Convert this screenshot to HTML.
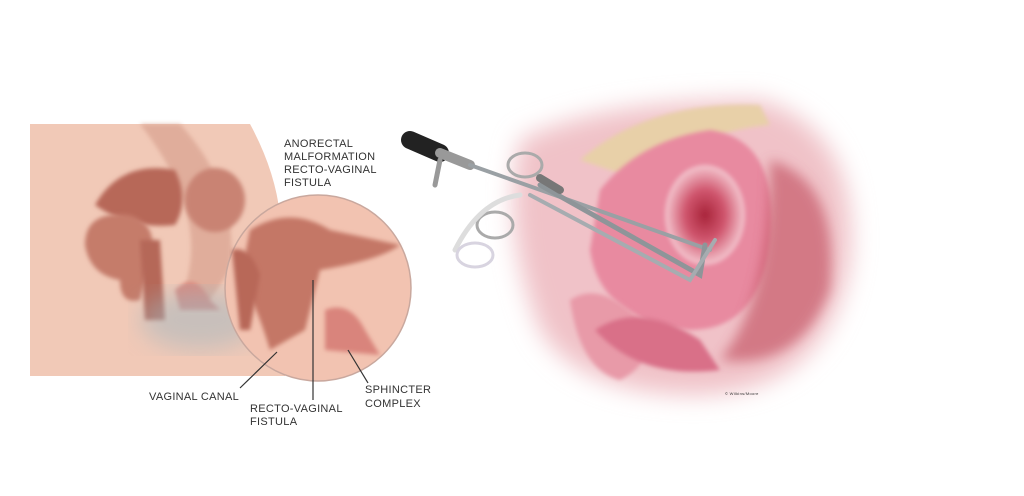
<!DOCTYPE html>
<html><head><meta charset="utf-8"><style>
html,body{margin:0;padding:0;background:#fff;}
svg{display:block;}
text{font-family:"Liberation Sans",sans-serif;font-size:11px;fill:#333;letter-spacing:0.3px;}
</style></head><body>
<svg width="1024" height="496" viewBox="0 0 1024 496" xmlns="http://www.w3.org/2000/svg">
<defs>
<filter id="b2"><feGaussianBlur stdDeviation="2"/></filter>
<filter id="b6"><feGaussianBlur stdDeviation="6"/></filter>
<filter id="b12"><feGaussianBlur stdDeviation="12"/></filter>
<radialGradient id="rg" cx="0.5" cy="0.5" r="0.5"><stop offset="0" stop-color="#a8243a"/><stop offset="0.5" stop-color="#d0566e"/><stop offset="1" stop-color="#f4c6cf"/></radialGradient>
</defs>
<!-- LEFT PANEL body -->
<path d="M30,124 L250,124 Q275,170 280,215 L285,376 L30,376 Z" fill="#f1c9b7"/>
<path d="M140,124 L180,124 Q240,190 230,270 L210,300 L180,300 Q215,220 140,124Z" fill="#d9a290" opacity="0.7" filter="url(#b2)"/>
<ellipse cx="215" cy="200" rx="30" ry="32" fill="#c98373" filter="url(#b2)"/>
<path d="M95,205 Q120,160 175,170 Q190,200 175,225 Q130,230 95,205Z" fill="#b76758" filter="url(#b2)"/>
<path d="M85,245 Q85,210 130,215 Q160,225 150,260 L140,300 Q120,305 120,280 Q90,275 85,245Z" fill="#c57b6b" filter="url(#b2)"/>
<path d="M140,240 L160,240 L165,320 L145,320Z" fill="#b56858" filter="url(#b2)"/>
<path d="M175,290 Q195,270 210,300 L220,310 L180,310Z" fill="#d98a80" filter="url(#b2)"/>
<ellipse cx="200" cy="320" rx="60" ry="30" fill="#9fb6bf" opacity="0.5" filter="url(#b12)"/>
<!-- circle -->
<circle cx="318" cy="288" r="93" fill="#f2c3b1" stroke="#c9a89e" stroke-width="1.5"/>
<path d="M250,230 Q290,205 330,230 L400,245 Q380,260 320,270 L305,330 L270,350 Q255,300 240,280 Z" fill="#c47766" filter="url(#b2)"/>
<path d="M232,250 Q250,245 260,275 L250,330 L240,330 Z" fill="#b86858" filter="url(#b2)"/>
<path d="M325,310 Q350,300 365,330 L380,355 L325,350 Z" fill="#d9847c" filter="url(#b2)"/>
<!-- leaders -->
<path d="M277,352 L240,388" stroke="#333" stroke-width="1.2" fill="none"/>
<path d="M313,280 L313,400" stroke="#333" stroke-width="1.2" fill="none"/>
<path d="M348,350 L368,383" stroke="#333" stroke-width="1.2" fill="none"/>
<text x="284" y="147">ANORECTAL</text>
<text x="284" y="160">MALFORMATION</text>
<text x="284" y="173">RECTO-VAGINAL</text>
<text x="284" y="186">FISTULA</text>
<text x="149" y="400">VAGINAL CANAL</text>
<text x="250" y="412">RECTO-VAGINAL</text>
<text x="250" y="425">FISTULA</text>
<text x="365" y="393">SPHINCTER</text>
<text x="365" y="407">COMPLEX</text>
<!-- RIGHT PANEL -->
<path d="M520,140 Q600,100 760,100 Q860,130 850,260 Q830,390 700,395 Q580,395 540,330 Q500,230 520,140Z" fill="#f0c2c8" filter="url(#b12)"/>
<path d="M580,160 Q650,100 760,105 L770,125 Q700,130 640,180 Z" fill="#e8d0a8" filter="url(#b2)"/>
<path d="M600,190 Q640,140 710,130 Q780,140 770,240 Q760,330 690,330 Q600,320 590,250Z" fill="#e88aa0" filter="url(#b2)"/>
<ellipse cx="705" cy="215" rx="40" ry="50" fill="url(#rg)" filter="url(#b2)"/>
<path d="M770,160 Q840,180 830,290 Q800,370 720,360 Q770,300 770,160Z" fill="#c0485a" opacity="0.6" filter="url(#b6)"/>
<path d="M570,300 Q600,280 640,320 Q660,360 620,380 Q580,370 570,300Z" fill="#e89aa8" filter="url(#b2)"/>
<path d="M595,330 Q640,300 700,340 L720,370 Q640,380 595,330Z" fill="#d97088" filter="url(#b2)"/>
<!-- instrument -->
<g stroke-linecap="round">
<path d="M410,140 L440,153" stroke="#222" stroke-width="18"/>
<path d="M440,153 L470,165" stroke="#999" stroke-width="10"/>
<path d="M470,165 L710,250" stroke="#9aa0a4" stroke-width="4"/>
<path d="M440,160 L435,185" stroke="#999" stroke-width="5"/>
<path d="M540,185 L700,275 L705,245" stroke="#8e9599" stroke-width="5" fill="none"/>
<path d="M530,195 L690,280 L715,240" stroke="#a6acb0" stroke-width="4" fill="none"/>
<ellipse cx="525" cy="165" rx="17" ry="12" stroke="#aaa" stroke-width="3" fill="none"/>
<ellipse cx="495" cy="225" rx="18" ry="13" stroke="#aaa" stroke-width="3" fill="none"/>
<path d="M540,178 L560,190" stroke="#777" stroke-width="8"/>
<path d="M455,250 Q480,200 520,195" stroke="#ddd" stroke-width="5" fill="none"/>
<ellipse cx="475" cy="255" rx="18" ry="12" stroke="#d8d4e0" stroke-width="3" fill="none"/>
</g>
<text x="725" y="395" style="font-size:4px">© Wilkins/Moore</text>
</svg>
</body></html>
